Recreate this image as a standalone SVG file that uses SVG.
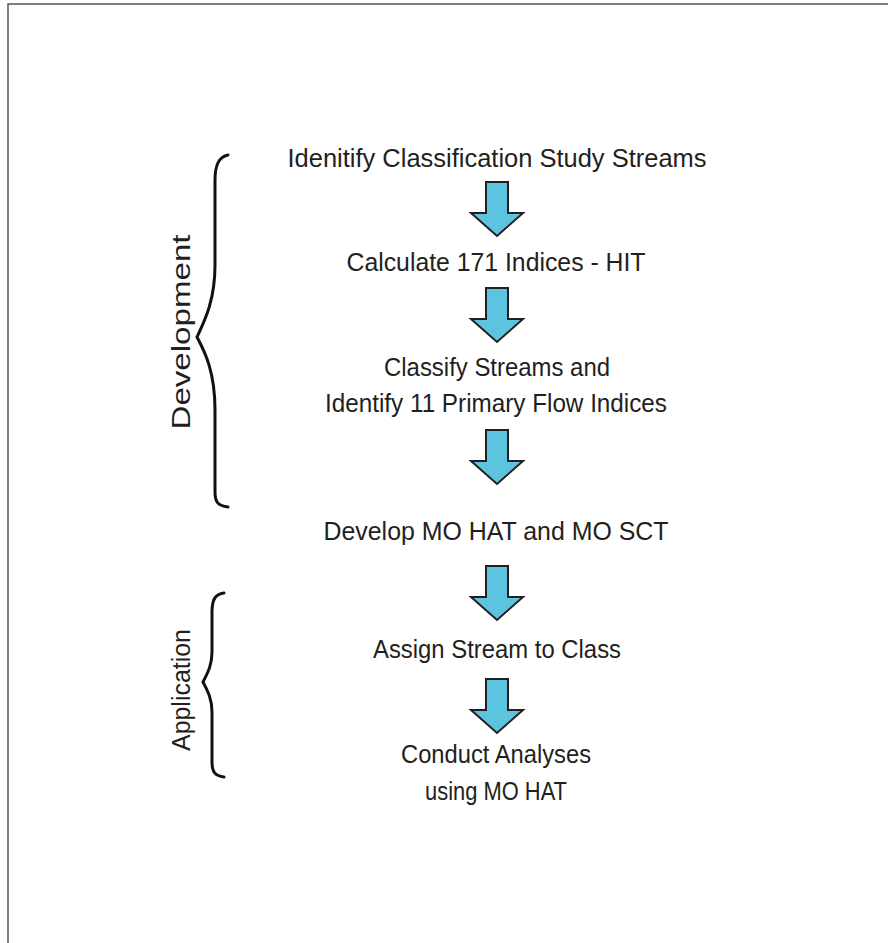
<svg xmlns="http://www.w3.org/2000/svg" width="888" height="943" viewBox="0 0 888 943">
<defs>
<style>
.t{font-family:"Liberation Sans",Arial,sans-serif;font-size:25px;fill:#231f20;text-anchor:middle}
.a{fill:#5cc4df;stroke:#231f20;stroke-width:2;stroke-linejoin:miter}
.b{fill:none;stroke:#111;stroke-width:3;stroke-linecap:round}
</style>
<path id="arr" d="M-11,0 H11 V31 H26 L0,54 L-26,31 H-11 Z"/>
</defs>
<rect width="888" height="943" fill="#fff"/>
<path d="M8,943 V4 H888" fill="none" stroke="#555" stroke-width="1.5"/>
<g id="braces">
<path class="b" d="M228,155 C218,157 215,166 215,180 V265 C215,300 205,320 197,337 C205,352 215,372 215,410 V492 C215,502 218,506 228,507"/>
<path class="b" d="M224,593 C215,594 212,600 212,612 V652 C212,666 207,674 203,682 C207,690 212,698 212,712 V762 C212,772 215,776 224,777"/>
</g>
<g id="labels">
<text class="t" transform="translate(190,332) rotate(-90)" textLength="195" lengthAdjust="spacingAndGlyphs">Development</text>
<text class="t" transform="translate(190,690) rotate(-90)" textLength="122" lengthAdjust="spacingAndGlyphs">Application</text>
</g>
<g id="n1"><text class="t" x="497" y="167" textLength="419" lengthAdjust="spacingAndGlyphs">Idenitify Classification Study Streams</text></g>
<g id="n2"><text class="t" x="496" y="271" textLength="299" lengthAdjust="spacingAndGlyphs">Calculate 171 Indices - HIT</text></g>
<g id="n3"><text class="t" x="497" y="376" textLength="226" lengthAdjust="spacingAndGlyphs">Classify Streams and</text>
<text class="t" x="496" y="412" textLength="342" lengthAdjust="spacingAndGlyphs">Identify 11 Primary Flow Indices</text></g>
<g id="n4"><text class="t" x="496" y="540" textLength="345" lengthAdjust="spacingAndGlyphs">Develop MO HAT and MO SCT</text></g>
<g id="n5"><text class="t" x="497" y="658" textLength="248" lengthAdjust="spacingAndGlyphs">Assign Stream to Class</text></g>
<g id="n6"><text class="t" x="496" y="763" textLength="190" lengthAdjust="spacingAndGlyphs">Conduct Analyses</text>
<text class="t" x="496" y="800" textLength="142" lengthAdjust="spacingAndGlyphs">using MO HAT</text></g>
<g id="connectors">
<use href="#arr" class="a" x="497" y="182"/>
<use href="#arr" class="a" x="497" y="288"/>
<use href="#arr" class="a" x="497" y="430"/>
<use href="#arr" class="a" x="497" y="566"/>
<use href="#arr" class="a" x="497" y="679"/>
</g>
</svg>
